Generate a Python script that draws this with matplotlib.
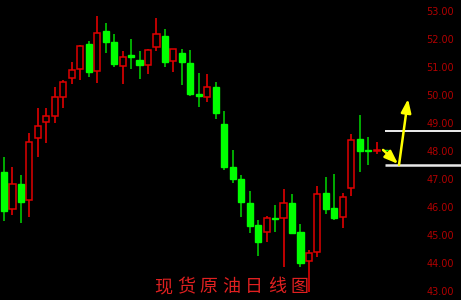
import matplotlib
matplotlib.use("Agg")
import matplotlib.pyplot as plt
import numpy as np

# ---- data (daily OHLC) ----
opens = [47.29, 45.96, 46.86, 46.28, 48.50, 49.07, 49.30, 49.96, 50.64, 50.98,
         51.86, 50.89, 52.33, 51.94, 51.08, 51.48, 51.30, 51.12, 51.77, 52.14,
         51.27, 51.56, 51.18, 50.09, 49.98, 50.32, 49.02, 47.46, 47.03, 46.19,
         45.38, 45.16, 45.63, 45.63, 46.17, 45.16, 44.11, 44.42, 46.55, 45.99,
         45.67, 46.73, 48.46, 48.08, 48.05, 48.08]
highs = [47.84, 47.46, 47.19, 48.67, 49.57, 49.57, 50.32, 50.58, 51.22, 51.83,
         51.96, 52.87, 52.63, 52.24, 51.62, 52.05, 51.62, 51.68, 52.79, 52.40,
         51.70, 51.68, 51.65, 50.82, 50.79, 50.52, 49.48, 48.08, 47.18, 46.61,
         45.57, 45.72, 46.11, 46.67, 46.49, 45.43, 44.50, 46.79, 47.10, 47.22,
         46.55, 48.64, 49.33, 48.53, 48.37, 48.08]
lows = [45.55, 45.75, 45.48, 45.69, 47.84, 48.32, 49.05, 49.59, 50.43, 50.58,
        50.69, 50.46, 51.53, 51.04, 50.43, 50.96, 50.60, 50.79, 51.63, 51.06,
        50.88, 50.40, 50.02, 49.60, 49.80, 49.20, 47.36, 46.89, 45.67, 45.10,
        44.29, 44.80, 45.16, 43.88, 45.10, 43.88, 43.00, 44.26, 45.78, 45.57,
        45.30, 46.43, 47.30, 47.54, 47.93, 48.06]
closes = [45.91, 46.86, 46.21, 48.38, 48.95, 49.30, 49.98, 50.50, 50.93, 51.80,
          50.88, 52.25, 51.95, 51.14, 51.41, 51.39, 51.10, 51.65, 52.21, 51.23,
          51.68, 51.21, 50.07, 50.01, 50.32, 49.41, 47.46, 47.05, 46.21, 45.36,
          44.80, 45.63, 45.60, 46.17, 45.12, 44.03, 44.38, 46.50, 45.97, 45.66,
          46.41, 48.42, 48.05, 48.05, 48.08, 48.06]

price_ticks = [53, 52, 51, 50, 49, 48, 47, 46, 45, 44, 43]
level_lines = [48.77, 47.54]
# arrows: (x_start, y_start, x_end, y_end) in candle-index / price units
arrows = [(44.75, 48.08, 46.52, 47.58),
          (46.63, 47.54, 47.70, 49.90)]
title = "现货原油日线图"

# ---- drawing ----
fig = plt.figure(figsize=(4.61, 3.00), dpi=100, facecolor="black")
ax = fig.add_axes([0, 0, 1, 1])
ax.set_facecolor("black")
ax.set_xlim(-0.472, 53.95)
ax.set_ylim(42.714, 53.44)
ax.axis("off")

RED = "#e00000"
GREEN = "#00ff00"
GREEN_WICK = "#00c800"

x = np.arange(len(opens))
o = np.array(opens); c = np.array(closes)
h = np.array(highs); l = np.array(lows)
up = c >= o
w = 0.72

ax.vlines(x[up], l[up], h[up], color=RED, lw=1.2, zorder=1)
ax.vlines(x[~up], l[~up], h[~up], color=GREEN_WICK, lw=1.2, zorder=1)

ax.bar(x[up], np.maximum(c[up] - o[up], 0.01), bottom=o[up], width=w,
       facecolor="black", edgecolor=RED, linewidth=1.1, zorder=2)
ax.bar(x[~up], np.maximum(o[~up] - c[~up], 0.01), bottom=c[~up], width=w,
       facecolor=GREEN, edgecolor=GREEN, linewidth=1.0, zorder=2)

# level lines
ax.hlines(level_lines[0], 45.0, 54, color="white", lw=1.3, zorder=3)
ax.hlines(level_lines[1], 45.0, 54, color="#e8e8e8", lw=1.8, zorder=3)

# arrows
for (x0, y0, x1, y1) in arrows:
    ax.annotate("", xy=(x1, y1), xytext=(x0, y0),
                arrowprops=dict(arrowstyle="-|>,head_length=0.8,head_width=0.3",
                                color="#ffff00", lw=1.8, shrinkA=0, shrinkB=0),
                zorder=4)

# price labels
for v in price_ticks:
    ax.text(0.925, v, f"{v:.2f}", transform=ax.get_yaxis_transform(),
            color="#b00000", fontsize=7, ha="left", va="center",
            family="DejaVu Sans")

# title (spaced characters)
for k, ch in enumerate(title):
    ax.text((163 + 22.8 * k) / 461, 1 - 287 / 300, ch, transform=ax.transAxes,
            color="#e02020", fontsize=13, ha="center", va="center",
            family=["Noto Sans CJK SC", "DejaVu Sans"])

fig.savefig("out.png", dpi=100, facecolor="black")
